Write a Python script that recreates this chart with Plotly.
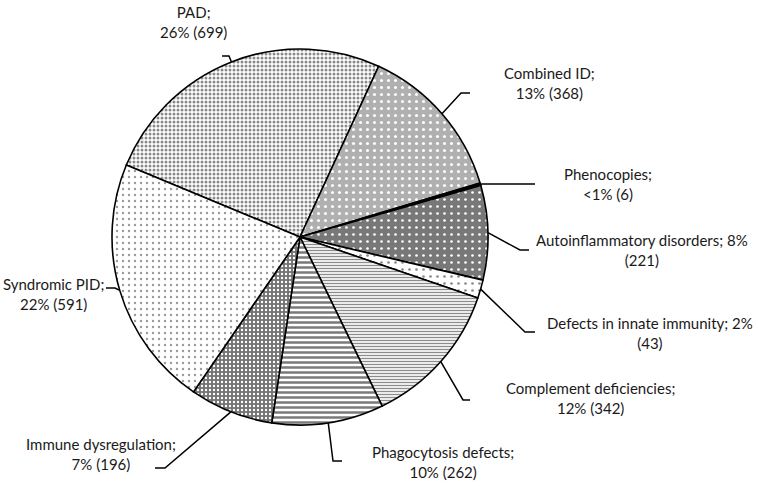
import math
import plotly.graph_objects as go

W, H = 758, 490

categories = ["PAD", "Combined ID", "Phenocopies", "Autoinflammatory disorders",
              "Defects in innate immunity", "Complement deficiencies",
              "Phagocytosis defects", "Immune dysregulation", "Syndromic PID"]
counts = [699, 368, 6, 221, 43, 342, 262, 196, 591]
pct_labels = ["26%", "13%", "<1%", "8%", "2%", "12%", "10%", "7%", "22%"]

# label text layout (line break position per label)
label_texts = [
    "PAD;<br>26% (699)",
    "Combined ID;<br>13% (368)",
    "Phenocopies;<br><1% (6)",
    "Autoinflammatory disorders; 8%<br>(221)",
    "Defects in innate immunity; 2%<br>(43)",
    "Complement deficiencies;<br>12% (342)",
    "Phagocytosis defects;<br>10% (262)",
    "Immune dysregulation;<br>7% (196)",
    "Syndromic PID;<br>22% (591)",
]

# pixel positions: label centres, leader elbow, leader end
label_pos = [(193, 22), (549, 83), (608, 184), (642, 250), (650, 333),
             (590, 398), (443, 462), (101, 454), (53, 294)]
elbows = [(229, 56), (461, 93), (482, 184), (520, 250), (525, 332),
          (463, 400), (333, 461), (165, 468), (115, 288)]
ends = [(222, 56), (470, 93), (535, 184), (529, 250), (535, 332),
        (470, 400), (342, 461), (155, 468), (106, 288)]

shapes_ = [".", ".", "", ".", ".", "-", "-", ".", "."]
bgs = ["#ffffff", "#b0b0b0", "#000000", "#787878", "#ffffff", "#ffffff", "#ffffff", "#737373", "#ffffff"]
fgs = ["#8a8a8a", "#ffffff", "#000000", "#ffffff", "#8a8a8a", "#8c8c8c", "#7a7a7a", "#ffffff", "#9a9a9a"]
sizes = [4, 7, 4, 7, 7, 3, 5, 4, 6]
solid = [0.45, 0.15, 0.3, 0.12, 0.12, 0.45, 0.5, 0.28, 0.12]

cx, cy, R = 300, 237, 188
start_deg = 157.5  # math angle where first slice begins

fig = go.Figure(go.Pie(
    labels=categories, values=counts, sort=False, direction="clockwise",
    rotation=90 - start_deg, textinfo="none", hoverinfo="label+value",
    marker=dict(colors=bgs, line=dict(color="black", width=1.6),
                pattern=dict(shape=shapes_, bgcolor=bgs, fgcolor=fgs,
                             size=sizes, solidity=solid, fillmode="replace")),
    domain=dict(x=[(cx - R) / W, (cx + R) / W], y=[1 - (cy + R) / H, 1 - (cy - R) / H]),
    showlegend=False,
))


def px(x, y):
    return x / W, 1 - y / H


total = sum(counts)
cum = 0
shapes = []
annotations = []
for i, v in enumerate(counts):
    mid = start_deg - (cum + v / 2) / total * 360
    cum += v
    a = math.radians(mid)
    sx, sy = cx + R * math.cos(a), cy - R * math.sin(a)
    pts = [px(sx, sy), px(*elbows[i]), px(*ends[i])]
    path = "M {} {} L {} {} L {} {}".format(*[c for p in pts for c in p])
    shapes.append(dict(type="path", xref="paper", yref="paper", path=path,
                       line=dict(color="black", width=1.5)))
    lx, ly = px(*label_pos[i])
    annotations.append(dict(x=lx, y=ly, xref="paper", yref="paper", text=label_texts[i],
                            showarrow=False, xanchor="center", yanchor="middle",
                            align="center", font=dict(size=15, color="#1a1a1a")))

fig.update_layout(
    width=W, height=H, autosize=False,
    margin=dict(l=0, r=0, t=0, b=0),
    paper_bgcolor="white", plot_bgcolor="white",
    font=dict(family="Lato, Open Sans, sans-serif"),
    shapes=shapes, annotations=annotations,
)

# drop the default 8px body margin so the chart sits at the window origin
fig.write_html("out.html", config={"displayModeBar": False},
               post_script="document.body.style.margin='0';")
